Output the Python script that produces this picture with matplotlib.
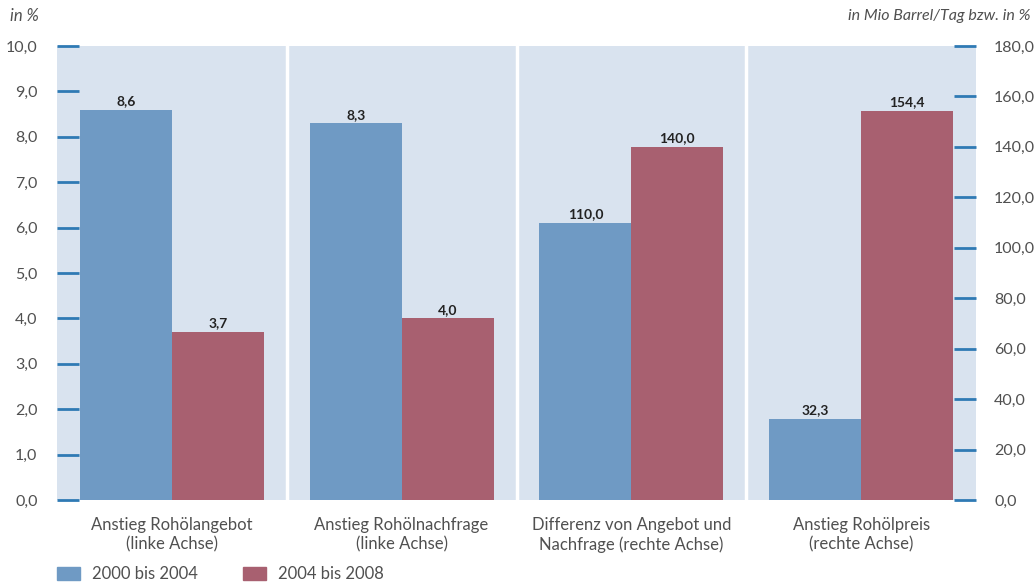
import numpy as np
import matplotlib.pyplot as plt
from matplotlib.patches import Rectangle

plt.rcParams['font.family'] = ['Lato', 'DejaVu Sans']

categories = ['Anstieg Rohölangebot\n(linke Achse)',
              'Anstieg Rohölnachfrage\n(linke Achse)',
              'Differenz von Angebot und\nNachfrage (rechte Achse)',
              'Anstieg Rohölpreis\n(rechte Achse)']
# first two groups on left axis, last two on right axis
v_2000_2004 = [8.6, 8.3, 110.0, 32.3]
v_2004_2008 = [3.7, 4.0, 140.0, 154.4]
on_right = [False, False, True, True]
series_names = ['2000 bis 2004', '2004 bis 2008']

blue = '#6f9ac4'
red = '#a86070'
bg = '#d9e3ef'
tickc = '#2f7ab4'
txt = '#505050'

def fmt(v):
    return f'{v:.1f}'.replace('.', ',')

fig = plt.figure(figsize=(10.34, 5.84), dpi=100)
ax = fig.add_axes([57/1034, 1-500/584, 919/1034, 454/584])
ax2 = ax.twinx()
ax.set_facecolor(bg)
ax.set_xlim(0, 4)
ax.set_ylim(0, 10)
ax2.set_ylim(0, 180)

x = np.arange(4) + 0.5
w = 0.4
for i in range(4):
    a = ax2 if on_right[i] else ax
    a.bar(x[i] - w/2, v_2000_2004[i], w, color=blue, zorder=2)
    a.bar(x[i] + w/2, v_2004_2008[i], w, color=red, zorder=2)
    off = 1.0 if on_right[i] else 0.055
    for xx, v in [(x[i] - w/2, v_2000_2004[i]), (x[i] + w/2, v_2004_2008[i])]:
        a.text(xx, v + off, fmt(v), ha='center', va='bottom', fontsize=10,
               fontweight='bold', color='#222222')

for s in [1, 2, 3]:
    ax.axvline(s, color='white', lw=2.5, zorder=1)

for a in (ax, ax2):
    for sp in a.spines.values():
        sp.set_visible(False)

ax.set_yticks(np.arange(0, 10.1, 1))
ax.set_yticklabels([fmt(v) for v in np.arange(0, 10.1, 1)])
ax2.set_yticks(np.arange(0, 181, 20))
ax2.set_yticklabels([fmt(v) for v in np.arange(0, 181, 20)])
ax.tick_params(axis='y', direction='in', length=16, width=2, color=tickc,
               labelsize=11.5, labelcolor=txt, pad=14)
ax2.tick_params(axis='y', direction='in', length=16, width=2, color=tickc,
                labelsize=11.5, labelcolor=txt, pad=13)

ax.set_xticks(x)
ax.set_xticklabels(categories, fontsize=12, color=txt, linespacing=1.3)
ax.tick_params(axis='x', length=0, pad=12)

fig.text(10/1034, 1-16/584, 'in %', fontsize=12, style='italic', color=txt,
         va='center', ha='left')
fig.text(1030/1034, 1-16/584, 'in Mio Barrel/Tag bzw. in %', fontsize=11.5,
         style='italic', color=txt, va='center', ha='right')

# legend
for xs, c, name in [(57, blue, series_names[0]), (243, red, series_names[1])]:
    fig.patches.append(Rectangle((xs/1034, 1-580/584), 23/1034, 13/584,
                                 transform=fig.transFigure, color=c))
    fig.text((xs + 35)/1034, 1-574/584, name, fontsize=12, color=txt,
             va='center', ha='left')

fig.savefig('out.png', dpi=100)
